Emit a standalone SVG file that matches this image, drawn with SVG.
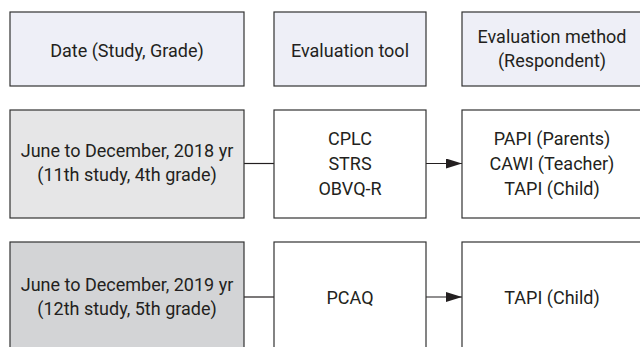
<svg xmlns="http://www.w3.org/2000/svg" width="640" height="347" viewBox="0 0 640 347">
<defs>
<style>
rect.b{stroke:#333;stroke-width:1.2}
.hd{fill:#eeeff7}
.w{fill:#fff}
.g1{fill:#e6e6e7}
.g2{fill:#d3d4d6}
text{font-family:Roboto,"Liberation Sans",sans-serif;font-size:18px;fill:#231f20;text-anchor:middle}
.c{stroke:#231f20;stroke-width:1.2;fill:none}
</style>
<marker id="ah" markerUnits="userSpaceOnUse" markerWidth="16" markerHeight="10" refX="16" refY="5" orient="auto">
<path d="M0,0 L16,5 L0,10 z" fill="#231f20"/>
</marker>
</defs>
<rect width="640" height="347" fill="#fff" stroke="none"/>
<g id="connectors">
<line class="c" x1="244" y1="163.5" x2="274" y2="163.5"/>
<line class="c" x1="426" y1="163.5" x2="462" y2="163.5" marker-end="url(#ah)"/>
<line class="c" x1="244" y1="297" x2="274" y2="297"/>
<line class="c" x1="426" y1="297" x2="462" y2="297" marker-end="url(#ah)"/>
</g>
<g id="h1"><rect class="b hd" x="10" y="12" width="234" height="74"/><text x="127" y="57">Date (Study, Grade)</text></g>
<g id="h2"><rect class="b hd" x="274" y="12" width="152" height="74"/><text x="350" y="57">Evaluation tool</text></g>
<g id="h3"><rect class="b hd" x="462" y="12" width="190" height="74"/><text x="552" y="43">Evaluation method</text><text x="552" y="67">(Respondent)</text></g>
<g id="r1c1"><rect class="b g1" x="10" y="110" width="234" height="108"/><text x="127" y="157">June to December, 2018 yr</text><text x="127" y="181">(11th study, 4th grade)</text></g>
<g id="r1c2"><rect class="b w" x="274" y="110" width="152" height="108"/><text x="350" y="145">CPLC</text><text x="350" y="170">STRS</text><text x="350" y="195">OBVQ-R</text></g>
<g id="r1c3"><rect class="b w" x="462" y="110" width="190" height="108"/><text x="552" y="145">PAPI (Parents)</text><text x="552" y="170">CAWI (Teacher)</text><text x="552" y="195">TAPI (Child)</text></g>
<g id="r2c1"><rect class="b g2" x="10" y="242" width="234" height="120"/><text x="127" y="291">June to December, 2019 yr</text><text x="127" y="315">(12th study, 5th grade)</text></g>
<g id="r2c2"><rect class="b w" x="274" y="242" width="152" height="120"/><text x="350" y="304">PCAQ</text></g>
<g id="r2c3"><rect class="b w" x="462" y="242" width="190" height="120"/><text x="552" y="304">TAPI (Child)</text></g>
</svg>
